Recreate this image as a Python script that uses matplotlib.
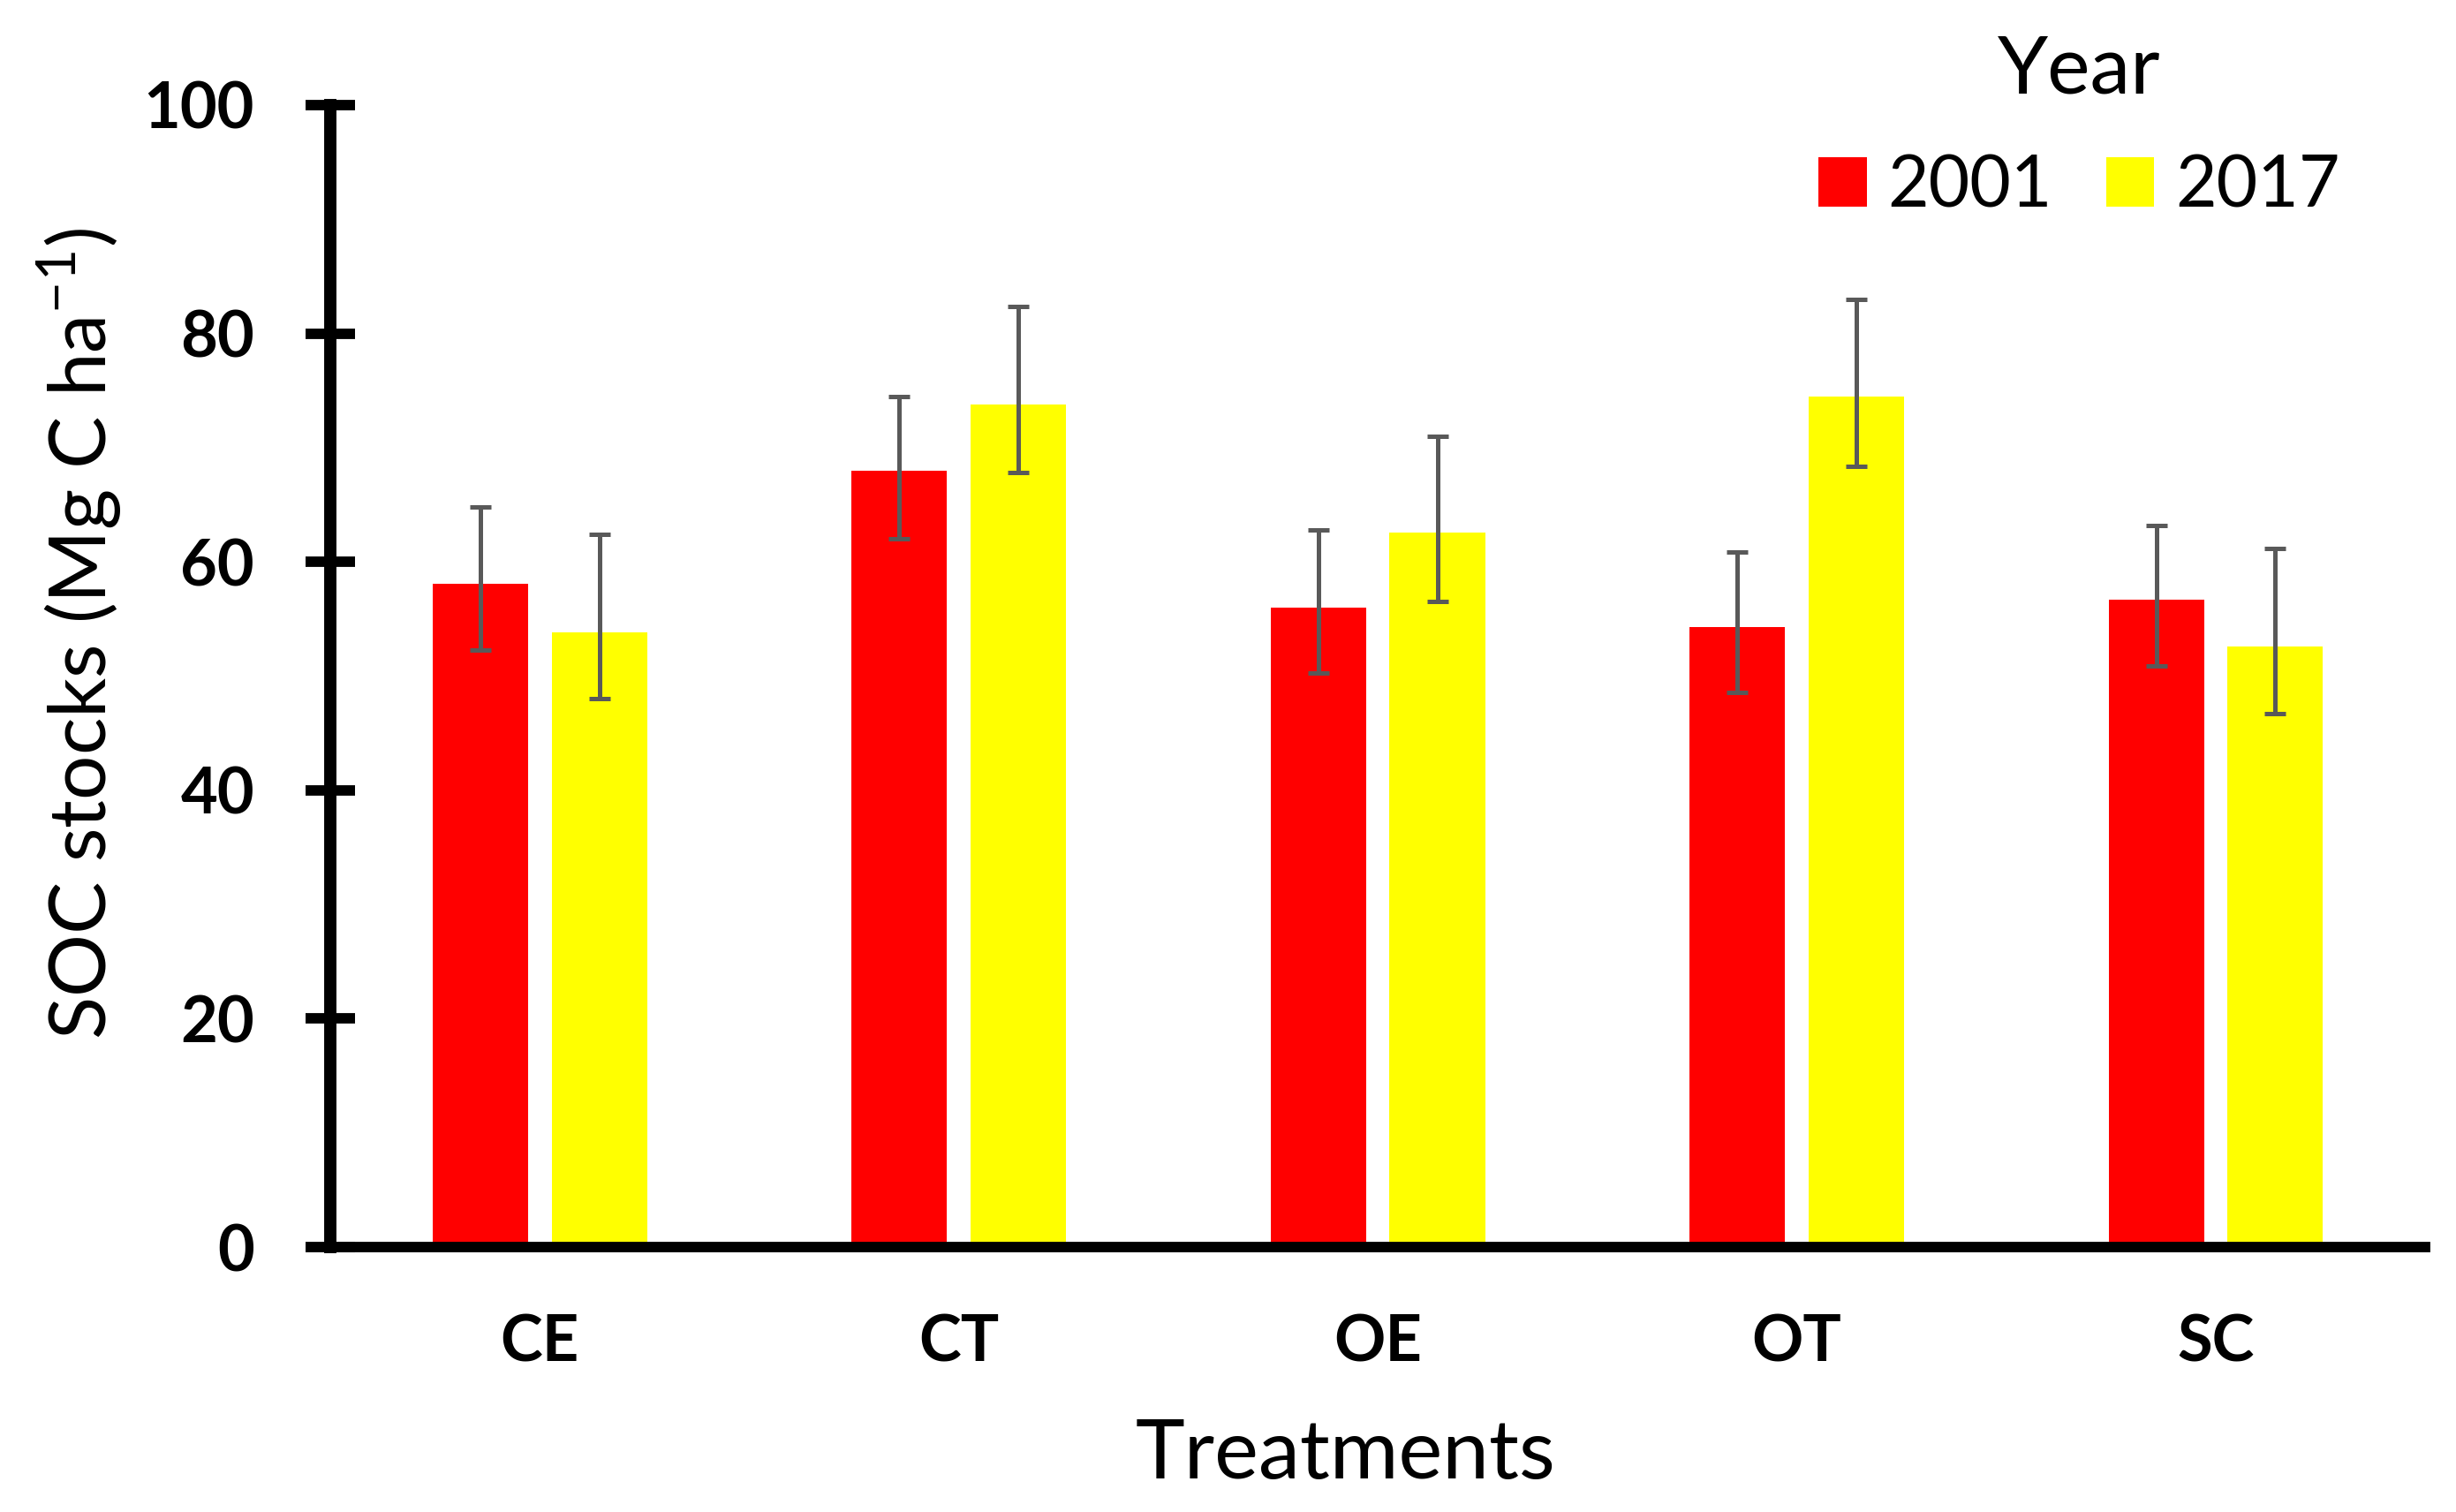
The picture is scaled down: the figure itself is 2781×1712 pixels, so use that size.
import matplotlib
matplotlib.use("Agg")
import matplotlib.pyplot as plt
import numpy as np

treatments = ["CE", "CT", "OE", "OT", "SC"]
years = ["2001", "2017"]
soc_2001 = [58.1, 68.0, 56.0, 54.3, 56.7]
soc_2017 = [53.8, 73.8, 62.6, 74.5, 52.6]
err_2001_up = [6.7, 6.5, 6.8, 6.6, 6.5]
err_2001_down = [5.8, 6.0, 5.7, 5.7, 5.8]
err_2017_up = [8.6, 8.6, 8.4, 8.5, 8.6]
err_2017_down = [5.8, 6.0, 6.1, 6.1, 5.9]
colors = ["#FF0000", "#FFFF00"]

plt.rcParams['font.family'] = ['Lato', 'DejaVu Sans']

fig = plt.figure(figsize=(27.81, 17.12), dpi=100)
ax = fig.add_axes([0.1345, 0.1752, 0.853, 0.7553])

x = np.arange(len(treatments))
w = 0.228
off = 0.142
ekw = dict(ecolor="#595959", elinewidth=3.6, capsize=8.5, capthick=3.6)
ax.bar(x - off, soc_2001, w, color=colors[0], label=years[0],
       yerr=[err_2001_down, err_2001_up], error_kw=ekw)
ax.bar(x + off, soc_2017, w, color=colors[1], label=years[1],
       yerr=[err_2017_down, err_2017_up], error_kw=ekw)

ax.set_xlim(-0.5, 4.5)
ax.set_ylim(0, 100)
ax.set_yticks([0, 20, 40, 60, 80, 100])
ax.set_xticks(x)
ax.set_xticklabels(treatments)
for s in ["top", "right"]:
    ax.spines[s].set_visible(False)
ax.spines["left"].set_linewidth(10)
ax.spines["bottom"].set_linewidth(8.5)
ax.tick_params(axis="y", direction="inout", length=40, width=8.5, labelsize=52, pad=42)
ax.tick_params(axis="x", length=0, labelsize=52, pad=54)
for lab in ax.get_xticklabels() + ax.get_yticklabels():
    lab.set_fontweight("bold")

ax.set_xlabel("Treatments", fontsize=68)
ax.xaxis.set_label_coords(0.4847, -0.150)
ax.set_ylabel("SOC stocks (Mg C ha$^{\\mathregular{-1}}$)", fontsize=64)
ax.yaxis.set_label_coords(-0.0987, 0.5375)

leg = fig.legend(loc="upper right", bbox_to_anchor=(0.979, 1.02), ncol=2, frameon=False,
                 title="Year", fontsize=58, title_fontsize=66, handlelength=0.68,
                 handleheight=0.69, handletextpad=0.3, columnspacing=0.75,
                 labelspacing=0.66)

fig.savefig("out.png", dpi=100)
